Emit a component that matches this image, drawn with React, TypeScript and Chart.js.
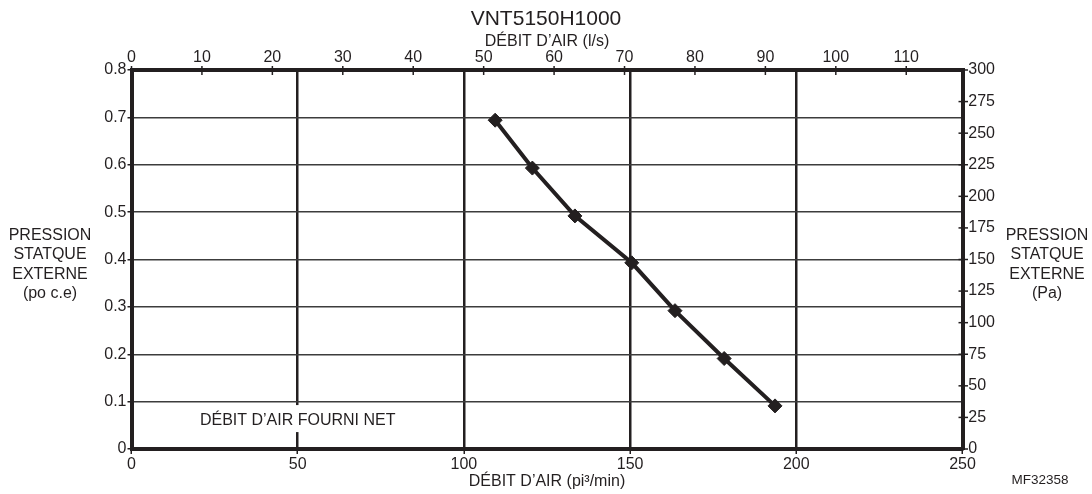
import React, { useEffect, useRef } from 'react';
import { Chart, registerables } from 'chart.js';

Chart.register(...registerables);

// ---------- data ----------
const airflowCfm = [109.4, 120.6, 133.4, 150.5, 163.5, 178.3, 193.6];
const pressureInWc = [0.694, 0.593, 0.492, 0.393, 0.292, 0.191, 0.091];

const cfmRange = [0, 250];
const cfmStep = 50;
const CFM_PER_LPS = 2.11888;
const lpsStep = 10;
const inWcRange = [0, 0.8];
const inWcStep = 0.1;
const paRange = [0, 300];
const paStep = 25;

const chartTitle = 'VNT5150H1000';
const bottomTitle = 'DÉBIT D’AIR (pi³/min)';
const topTitle = 'DÉBIT D’AIR (l/s)';
const leftTitleLines = ['PRESSION', 'STATQUE', 'EXTERNE', '(po c.e)'];
const rightTitleLines = ['PRESSION', 'STATQUE', 'EXTERNE', '(Pa)'];
const noteText = 'DÉBIT D’AIR FOURNI NET';
const noteAt = [50, 0.06];
const figureCode = 'MF32358';

// ---------- styles ----------
const INK = '#231f20';
const FONT = "'Liberation Sans', Arial, Helvetica, sans-serif";

const extrasPlugin = {
  id: 'extras',
  afterDraw(chart: any) {
    const { ctx, chartArea: a, scales } = chart;
    const x = scales.x, y = scales.y, x2 = scales.x2, y2 = scales.y2;
    ctx.save();
    ctx.strokeStyle = INK;
    ctx.lineWidth = 1.5;
    // top axis ticks crossing the axis line
    x2.ticks.forEach((t: any) => {
      const px = x2.getPixelForValue(t.value);
      ctx.beginPath();
      ctx.moveTo(px, a.top - 4);
      ctx.lineTo(px, a.top + 5);
      ctx.stroke();
    });
    // right axis ticks crossing the axis line
    y2.ticks.forEach((t: any) => {
      const py = y2.getPixelForValue(t.value);
      ctx.beginPath();
      ctx.moveTo(a.right - 4, py);
      ctx.lineTo(a.right + 5.5, py);
      ctx.stroke();
    });

    // note inside the plot
    ctx.font = `16px ${FONT}`;
    const lx = x.getPixelForValue(noteAt[0]);
    const ly = y.getPixelForValue(noteAt[1]);
    const w = ctx.measureText(noteText).width;
    ctx.fillStyle = '#ffffff';
    ctx.fillRect(lx - w / 2 - 2, ly - 15.5, w + 4, 27);
    ctx.fillStyle = INK;
    ctx.textAlign = 'center';
    ctx.textBaseline = 'middle';
    ctx.fillText(noteText, lx, ly);

    // side titles (horizontal, multi-line)
    const midY = (a.top + a.bottom) / 2 + 5;
    const lh = 19.6;
    leftTitleLines.forEach((s, i) => {
      ctx.fillText(s, a.left - 81.5, midY + (i - 1.5) * lh);
    });
    rightTitleLines.forEach((s, i) => {
      ctx.fillText(s, a.right + 84.5, midY + (i - 1.5) * lh);
    });

    // figure code
    ctx.font = `13.5px ${FONT}`;
    ctx.fillText(figureCode, 1040, 480);
    ctx.restore();
  },
};

export default function App() {
  const canvasRef = useRef<HTMLCanvasElement | null>(null);

  useEffect(() => {
    const canvas = canvasRef.current;
    if (!canvas) return;
    Chart.defaults.font.family = FONT;
    Chart.defaults.color = INK;

    const points = airflowCfm.map((v, i) => ({ x: v, y: pressureInWc[i] }));

    const chart = new Chart(canvas, {
      type: 'scatter',
      data: {
        datasets: [
          {
            data: points,
            showLine: true,
            borderColor: INK,
            borderWidth: 4,
            tension: 0,
            pointStyle: 'rectRot',
            pointRadius: 7,
            pointHoverRadius: 7,
            pointBackgroundColor: INK,
            pointBorderColor: INK,
            pointBorderWidth: 1,
            xAxisID: 'x',
            yAxisID: 'y',
            clip: false,
          },
        ],
      },
      options: {
        animation: false,
        responsive: false,
        devicePixelRatio: 1,
        layout: { padding: 0 },
        events: [],
        plugins: {
          legend: { display: false },
          tooltip: { enabled: false },
          title: {
            display: true,
            text: chartTitle,
            color: INK,
            font: { size: 21, weight: 'normal', lineHeight: 1.2, family: FONT },
            padding: { top: 6.6, bottom: 0 },
          },
        },
        scales: {
          x: {
            type: 'linear',
            position: 'bottom',
            min: cfmRange[0],
            max: cfmRange[1],
            afterFit: (s: any) => { s.height = 45; },
            ticks: { stepSize: cfmStep, font: { size: 16 }, color: INK, padding: 1, maxRotation: 0 },
            grid: {
              color: (c: any) => (c.tick && (c.tick.value === cfmRange[0] || c.tick.value === cfmRange[1]) ? 'rgba(0,0,0,0)' : INK),
              lineWidth: 2.5,
              drawTicks: true,
              tickLength: 5,
              tickColor: INK,
              tickWidth: 1.5,
            },
            border: { display: true, width: 4, color: INK },
            title: { display: true, text: bottomTitle, color: INK, font: { size: 16 }, padding: { top: 0, bottom: 2.4 } },
          },
          x2: {
            type: 'linear',
            position: 'top',
            min: cfmRange[0] / CFM_PER_LPS,
            max: cfmRange[1] / CFM_PER_LPS,
            afterFit: (s: any) => { s.height = 38.2; },
            ticks: {
              stepSize: lpsStep,
              includeBounds: false,
              font: { size: 16 },
              color: INK,
              padding: 2.9,
              maxRotation: 0,
              callback: (v: any) => (Math.abs(v - Math.round(v)) < 1e-6 ? String(Math.round(v)) : ''),
            },
            grid: { display: true, drawOnChartArea: false, drawTicks: false },
            border: { display: true, width: 4, color: INK },
            title: { display: true, text: topTitle, color: INK, font: { size: 16 }, padding: { top: 0, bottom: 0 } },
          },
          y: {
            type: 'linear',
            position: 'left',
            min: inWcRange[0],
            max: inWcRange[1],
            afterFit: (s: any) => { s.width = 131.5; },
            ticks: {
              stepSize: inWcStep,
              font: { size: 16 },
              color: INK,
              padding: 1,
              callback: (v: any) => (Math.abs(v) < 1e-9 ? '0' : Number(v).toFixed(1)),
            },
            grid: {
              color: (c: any) => (c.tick && (Math.abs(c.tick.value - inWcRange[0]) < 1e-9 || Math.abs(c.tick.value - inWcRange[1]) < 1e-9) ? 'rgba(0,0,0,0)' : '#3c3c3c'),
              lineWidth: 1.5,
              drawTicks: true,
              tickLength: 4,
              tickColor: INK,
              tickWidth: 1.5,
            },
            border: { display: true, width: 4, color: INK },
          },
          y2: {
            type: 'linear',
            position: 'right',
            min: paRange[0],
            max: paRange[1],
            afterFit: (s: any) => { s.width = 129.5; },
            ticks: { stepSize: paStep, font: { size: 16 }, color: INK, padding: 5.8 },
            grid: { display: true, drawOnChartArea: false, drawTicks: false },
            border: { display: true, width: 4, color: INK },
          },
        },
      } as any,
      plugins: [extrasPlugin],
    });

    return () => {
      chart.destroy();
    };
  }, []);

  return (
    <div style={{ position: 'absolute', left: 0, top: 0, width: 1092, height: 494, background: '#ffffff' }}>
      <canvas ref={canvasRef} width={1092} height={494} style={{ display: 'block', width: 1092, height: 494 }} />
    </div>
  );
}
